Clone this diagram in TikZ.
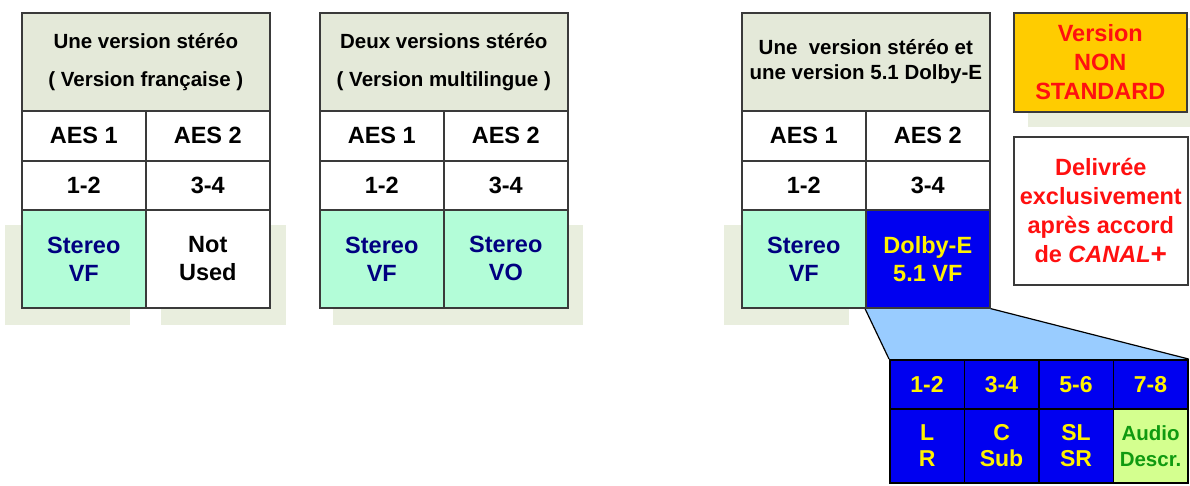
\documentclass[tikz,border=0pt]{standalone}
\usepackage{fontspec}
\setmainfont{Liberation Sans}
\usetikzlibrary{backgrounds}
\definecolor{hdr}{HTML}{E4E9D9}
\definecolor{shad}{HTML}{E9EEDE}
\definecolor{stfill}{HTML}{B3FDD8}
\definecolor{navy}{HTML}{000080}
\definecolor{dblue}{HTML}{0000F0}
\definecolor{trap}{HTML}{99CCFF}
\definecolor{adfill}{HTML}{D4FF8F}
\definecolor{adtext}{HTML}{109A10}
\definecolor{orng}{HTML}{FFCC00}
\definecolor{redt}{HTML}{FF1010}
\definecolor{bord}{HTML}{3A3A3A}
\tikzset{
 cell/.style={draw=bord, line width=1.6pt, anchor=north west, inner sep=0pt, align=center,
   font=\fontsize{23.5}{28}\selectfont\bfseries, minimum width=124pt},
 hdrcell/.style={cell, fill=hdr, minimum width=248pt, minimum height=98pt,
   font=\fontsize{20.5}{38}\selectfont\bfseries},
 aes/.style={cell, fill=white, minimum height=50pt},
 chan/.style={cell, fill=white, minimum height=49pt},
 sig/.style={cell, minimum height=98pt},
 stereo/.style={sig, fill=stfill, text=navy},
 plain/.style={sig, fill=white, text=black},
 dolby/.style={sig, fill=dblue, text=yellow},
 shadow/.style={fill=shad, draw=none},
 bcell/.style={draw=black, line width=1.6pt, anchor=north west, inner sep=0pt, align=center,
   minimum width=74.5pt, fill=dblue, text=yellow, font=\fontsize{23}{26}\selectfont\bfseries},
 bhead/.style={bcell, minimum height=49pt},
 bbody/.style={bcell, minimum height=74pt},
 note/.style={draw=bord, line width=1.6pt, anchor=north west, inner sep=0pt, align=center,
   text=redt, font=\fontsize{23.5}{29}\selectfont\bfseries},
 zoomedge/.style={draw=black, line width=1.2pt}
}
\begin{document}
\begin{tikzpicture}[x=1pt,y=-1pt]
\useasboundingbox (0,0) rectangle (1190,486);
% shadows
\path[shadow] (5,225) rectangle (130,325);
\path[shadow] (161,225) rectangle (286,325);
\path[shadow] (333,225) rectangle (583,325);
\path[shadow] (724,225) rectangle (849,325);
\path[shadow] (1028,28) rectangle (1190,127);
% table 1
\node[hdrcell] (h1) at (21,12) {Une version stéréo\\( Version française )};
\node[aes] (a11) at (21,110) {AES 1};
\node[aes] (a12) at (145,110) {AES 2};
\node[chan] (c11) at (21,160) {1-2};
\node[chan] (c12) at (145,160) {3-4};
\node[stereo] (s11) at (21,209) {Stereo\\VF};
\node[plain] (s12) at (145,209) {Not\\Used};
% table 2
\node[hdrcell] (h2) at (319,12) {Deux versions stéréo\\( Version multilingue )};
\node[aes] (a21) at (319,110) {AES 1};
\node[aes] (a22) at (443,110) {AES 2};
\node[chan] (c21) at (319,160) {1-2};
\node[chan] (c22) at (443,160) {3-4};
\node[stereo] (s21) at (319,209) {Stereo\\VF};
\node[stereo] (s22) at (443,209) {Stereo\\VO};
% table 3
\node[hdrcell, font=\fontsize{20.5}{25}\selectfont\bfseries] (h3) at (741,12) {Une\ \ version stéréo et\\une version 5.1 Dolby-E};
\node[aes] (a31) at (741,110) {AES 1};
\node[aes] (a32) at (865,110) {AES 2};
\node[chan] (c31) at (741,160) {1-2};
\node[chan] (c32) at (865,160) {3-4};
\node[stereo] (s31) at (741,209) {Stereo\\VF};
\node[dolby] (s32) at (865,209) {Dolby-E\\5.1 VF};
% notes
\node[note, fill=orng, minimum width=173pt, minimum height=99pt] (ns) at (1013,12) {Version\\NON\\STANDARD};
\node[note, fill=white, minimum width=174pt, minimum height=148pt] (nd) at (1013,136) {Delivrée\\exclusivement\\après accord\\de \textit{CANAL}\raisebox{-1.5pt}{\fontsize{28}{29}\selectfont +}};
% Dolby-E breakdown
\node[bhead] (b1) at (889,359) {1-2};
\node[bhead] (b2) at (963.5,359) {3-4};
\node[bhead] (b3) at (1038,359) {5-6};
\node[bhead] (b4) at (1112.5,359) {7-8};
\node[bbody] (d1) at (889,408) {L\\R};
\node[bbody] (d2) at (963.5,408) {C\\Sub};
\node[bbody] (d3) at (1038,408) {SL\\SR};
\node[bbody, fill=adfill, text=adtext, font=\fontsize{20.5}{26}\selectfont\bfseries] (d4) at (1112.5,408) {Audio\\Descr.};
\begin{scope}[on background layer]
\fill[trap] (s32.south west) -- (s32.south east) -- (b4.north east) -- (b1.north west) -- cycle;
\draw[zoomedge] (s32.south west) -- (b1.north west);
\draw[zoomedge] (s32.south east) -- (b4.north east);
\end{scope}
\end{tikzpicture}
\end{document}
